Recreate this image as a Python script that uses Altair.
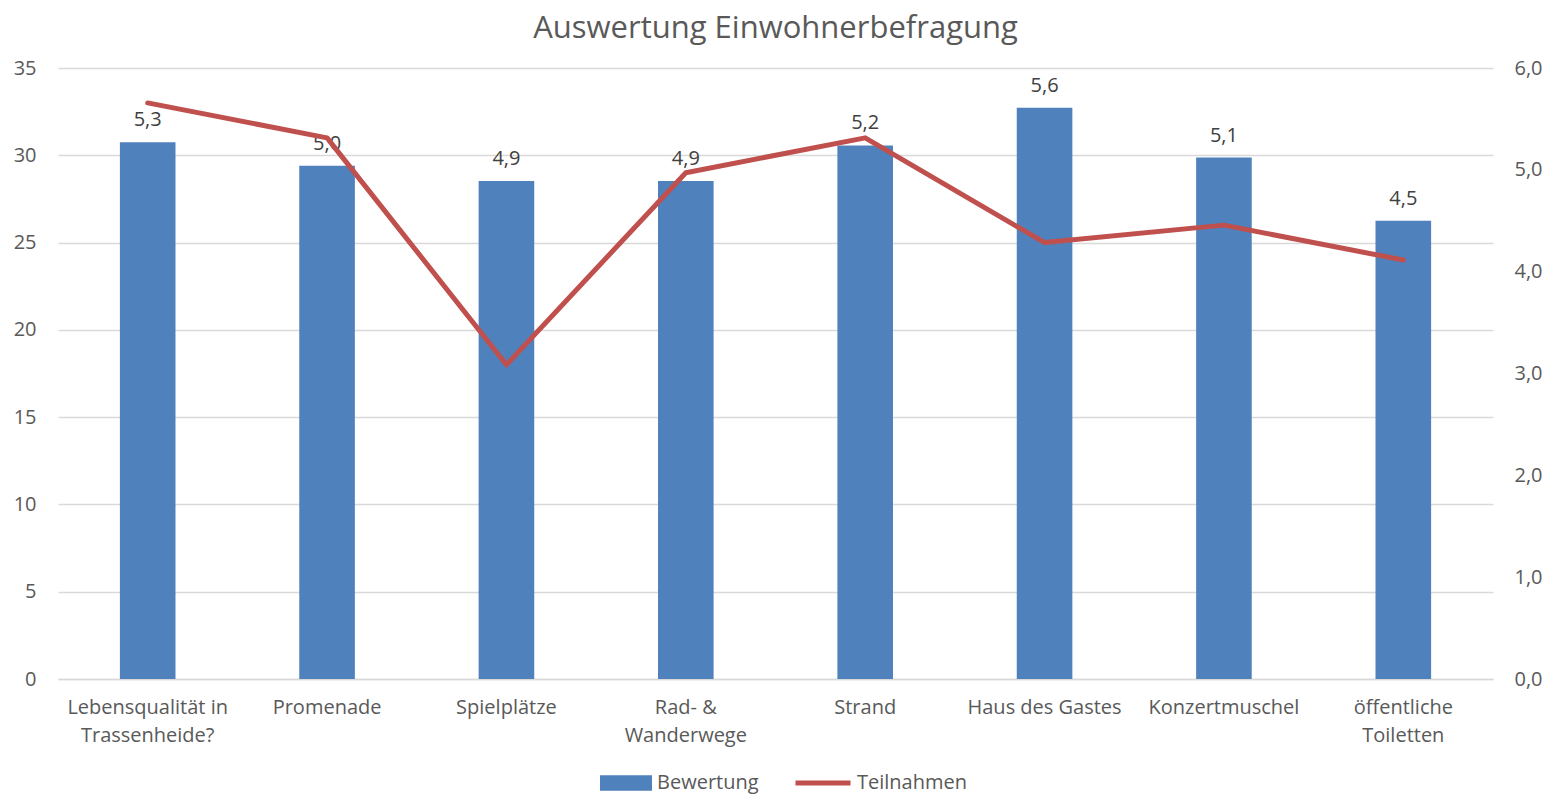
import altair as alt
import pandas as pd
import json

categories = ["Lebensqualität in Trassenheide?", "Promenade", "Spielplätze", "Rad- & Wanderwege",
              "Strand", "Haus des Gastes", "Konzertmuschel", "öffentliche Toiletten"]
label_lines = [["Lebensqualität in", "Trassenheide?"], ["Promenade"], ["Spielplätze"],
               ["Rad- &", "Wanderwege"], ["Strand"], ["Haus des Gastes"], ["Konzertmuschel"],
               ["öffentliche", "Toiletten"]]
bewertung = [5.27, 5.04, 4.89, 4.89, 5.24, 5.61, 5.12, 4.50]
teilnahmen = [33, 31, 18, 29, 31, 25, 26, 24]

df = pd.DataFrame({"cat": categories, "bew": bewertung, "teil": teilnahmen,
                   "s1": "Bewertung", "s2": "Teilnahmen"})

FONT = "Open Sans"
FS = 20
lookup = json.dumps({c: l for c, l in zip(categories, label_lines)}, ensure_ascii=False)

x = alt.X("cat:N", sort=categories, title=None,
          scale=alt.Scale(paddingInner=0.69, paddingOuter=0.345),
          axis=alt.Axis(labelAngle=0, labelExpr=f"{lookup}[datum.label]", labelFontSize=FS,
                        labelColor="#595959", labelFont=FONT, labelPadding=18, labelLineHeight=28,
                        ticks=False, domainColor="#D9D9D9", domainWidth=1.5, labelBaseline="top"))

bars = alt.Chart(df).mark_bar(color="#4F81BD").encode(
    x=x,
    y=alt.Y("bew:Q", scale=alt.Scale(domain=[0, 6]), title=None,
            axis=alt.Axis(orient="right", values=[0, 1, 2, 3, 4, 5, 6], grid=False, ticks=False,
                          domain=False, labelFontSize=FS, labelColor="#595959", labelFont=FONT,
                          labelPadding=21,
                          labelExpr="replace(format(datum.value, '.1f'), '.', ',')")),
    fill=alt.Fill("s1:N", scale=alt.Scale(domain=["Bewertung"], range=["#4F81BD"]),
                  legend=alt.Legend(title=None, orient="none", legendX=542, legendY=704,
                                    symbolType="M-1,-0.3H1V0.3H-1Z", symbolSize=2704,
                                    symbolStrokeWidth=0, clipHeight=22,
                                    labelFontSize=FS, labelColor="#595959", labelFont=FONT,
                                    labelOffset=5)),
)

text = alt.Chart(df).transform_calculate(
    lbl="replace(format(datum.bew, '.1f'), '.', ',')"
).mark_text(baseline="bottom", dy=-12, fontSize=FS, color="#404040", font=FONT).encode(
    x=alt.X("cat:N", sort=categories),
    y=alt.Y("bew:Q", scale=alt.Scale(domain=[0, 6]), axis=None),
    text="lbl:N",
)

line = alt.Chart(df).mark_line(strokeWidth=5, strokeCap="round", strokeJoin="round").encode(
    x=alt.X("cat:N", sort=categories),
    y=alt.Y("teil:Q", scale=alt.Scale(domain=[0, 35]), title=None,
            axis=alt.Axis(orient="left", values=[0, 5, 10, 15, 20, 25, 30, 35], grid=True,
                          gridColor="#D9D9D9", gridWidth=1.5, ticks=False, domain=False,
                          labelFontSize=FS, labelColor="#595959", labelFont=FONT, labelPadding=22)),
    stroke=alt.Stroke("s2:N", scale=alt.Scale(domain=["Teilnahmen"], range=["#C0504D"]),
                      legend=alt.Legend(title=None, orient="none", legendX=735, legendY=704,
                                        symbolType="stroke", symbolSize=3025,
                                        symbolStrokeWidth=5, clipHeight=22,
                                        labelFontSize=FS, labelColor="#595959", labelFont=FONT,
                                        labelOffset=4)),
)

chart = alt.layer(bars, text, line).resolve_scale(y="independent", fill="independent",
                                                    stroke="independent").properties(
    width=1435, height=611,
    title=alt.TitleParams("Auswertung Einwohnerbefragung", fontSize=31, font=FONT,
                          color="#595959", fontWeight="normal", anchor="middle", offset=13),
    autosize=alt.AutoSizeParams(type="none"),
    padding={"left": 50, "top": 60, "right": 55, "bottom": 118},
).configure_view(stroke=None)

chart.save("out.html", embed_options={"renderer": "svg", "actions": False})
